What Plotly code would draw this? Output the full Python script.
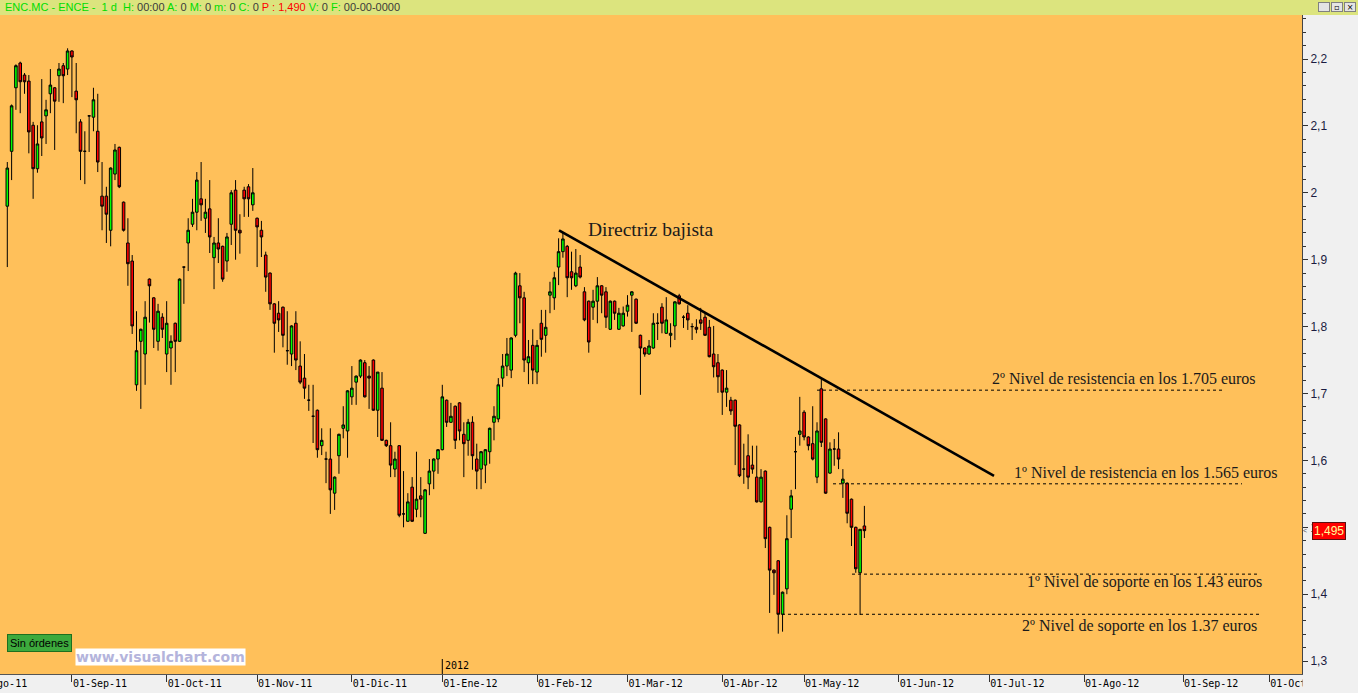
import pandas as pd
import plotly.graph_objects as go

# ---------------- data ----------------
opens = [1.980, 2.062, 2.157, 2.194, 2.176, 2.167, 2.101, 2.036, 2.106, 2.115,
         2.148, 2.157, 2.175, 2.190, 2.185, 2.212, 2.152, 2.106, 2.062, 2.115,
         2.113, 2.092, 1.995, 1.995, 1.944, 2.028, 2.068, 1.986, 1.925, 1.898,
         1.713, 1.778, 1.759, 1.871, 1.843, 1.778, 1.814, 1.759, 1.768, 1.805,
         1.778, 1.889, 1.925, 1.953, 1.971, 1.991, 1.962, 1.976, 1.903, 1.925,
         1.920, 1.898, 1.953, 2.004, 1.944, 2.004, 2.009, 1.982, 1.962, 1.944,
         1.907, 1.880, 1.834, 1.820, 1.829, 1.764, 1.759, 1.805, 1.741, 1.723,
         1.690, 1.666, 1.675, 1.622, 1.602, 1.602, 1.551, 1.607, 1.648, 1.644,
         1.695, 1.717, 1.726, 1.746, 1.726, 1.750, 1.675, 1.708, 1.630, 1.622,
         1.587, 1.622, 1.520, 1.509, 1.560, 1.527, 1.547, 1.491, 1.565, 1.584,
         1.602, 1.616, 1.690, 1.657, 1.681, 1.686, 1.639, 1.630, 1.657, 1.602,
         1.587, 1.593, 1.613, 1.657, 1.662, 1.723, 1.741, 1.735, 1.787, 1.861,
         1.843, 1.746, 1.772, 1.732, 1.805, 1.787, 1.847, 1.843, 1.889, 1.912,
         1.920, 1.882, 1.861, 1.889, 1.852, 1.838, 1.829, 1.838, 1.861, 1.852,
         1.796, 1.838, 1.796, 1.801, 1.823, 1.847, 1.841, 1.787, 1.768, 1.759,
         1.768, 1.805, 1.829, 1.790, 1.787, 1.801, 1.846, 1.814, 1.820, 1.800,
         1.799, 1.810, 1.814, 1.799, 1.759, 1.746, 1.735, 1.702, 1.690, 1.690,
         1.653, 1.587, 1.607, 1.593, 1.575, 1.538, 1.584, 1.500, 1.436, 1.450,
         1.370, 1.408, 1.527, 1.613, 1.639, 1.672, 1.635, 1.625, 1.575, 1.707,
         1.662, 1.581, 1.617, 1.617, 1.566, 1.566, 1.542, 1.500, 1.432, 1.502]
highs = [2.046, 2.132, 2.192, 2.196, 2.179, 2.176, 2.106, 2.101, 2.170, 2.139,
         2.185, 2.158, 2.194, 2.194, 2.216, 2.213, 2.194, 2.110, 2.092, 2.115,
         2.157, 2.148, 2.046, 2.009, 2.038, 2.073, 2.069, 1.987, 1.962, 1.907,
         1.823, 1.797, 1.838, 1.872, 1.844, 1.834, 1.820, 1.838, 1.787, 1.806,
         1.872, 1.889, 1.962, 1.991, 2.031, 2.046, 1.991, 2.019, 1.934, 1.962,
         1.921, 1.940, 2.004, 2.019, 1.968, 2.009, 2.013, 2.037, 1.963, 1.958,
         1.912, 1.881, 1.835, 1.838, 1.830, 1.823, 1.802, 1.823, 1.778, 1.759,
         1.713, 1.713, 1.676, 1.648, 1.613, 1.648, 1.576, 1.640, 1.681, 1.705,
         1.741, 1.727, 1.751, 1.750, 1.741, 1.751, 1.732, 1.732, 1.631, 1.657,
         1.613, 1.623, 1.584, 1.551, 1.575, 1.613, 1.575, 1.557, 1.602, 1.603,
         1.617, 1.713, 1.691, 1.686, 1.682, 1.687, 1.657, 1.662, 1.666, 1.625,
         1.614, 1.617, 1.649, 1.681, 1.723, 1.759, 1.783, 1.784, 1.882, 1.880,
         1.852, 1.780, 1.796, 1.780, 1.825, 1.825, 1.867, 1.882, 1.932, 1.940,
         1.922, 1.912, 1.916, 1.907, 1.859, 1.839, 1.855, 1.874, 1.862, 1.859,
         1.839, 1.839, 1.828, 1.830, 1.847, 1.853, 1.842, 1.788, 1.769, 1.780,
         1.820, 1.820, 1.835, 1.844, 1.805, 1.838, 1.849, 1.817, 1.832, 1.805,
         1.811, 1.828, 1.820, 1.810, 1.801, 1.759, 1.736, 1.735, 1.695, 1.691,
         1.654, 1.625, 1.639, 1.622, 1.622, 1.587, 1.585, 1.501, 1.437, 1.451,
         1.404, 1.518, 1.556, 1.635, 1.695, 1.675, 1.636, 1.681, 1.657, 1.723,
         1.663, 1.627, 1.632, 1.642, 1.587, 1.567, 1.543, 1.501, 1.497, 1.532]
lows = [1.889, 2.019, 2.124, 2.119, 2.148, 2.059, 1.991, 2.030, 2.055, 2.073,
        2.119, 2.064, 2.136, 2.134, 2.176, 2.143, 2.089, 2.019, 2.013, 2.061,
        2.092, 2.031, 1.944, 1.925, 1.920, 2.019, 2.007, 1.942, 1.861, 1.789,
        1.704, 1.677, 1.713, 1.806, 1.768, 1.764, 1.783, 1.732, 1.713, 1.732,
        1.777, 1.834, 1.883, 1.949, 1.944, 1.958, 1.940, 1.910, 1.856, 1.895,
        1.867, 1.882, 1.922, 1.900, 1.909, 1.964, 1.964, 1.973, 1.889, 1.904,
        1.852, 1.825, 1.761, 1.792, 1.769, 1.743, 1.741, 1.735, 1.714, 1.692,
        1.674, 1.626, 1.604, 1.608, 1.566, 1.520, 1.526, 1.580, 1.633, 1.604,
        1.683, 1.683, 1.723, 1.694, 1.677, 1.674, 1.635, 1.629, 1.620, 1.575,
        1.575, 1.515, 1.500, 1.508, 1.508, 1.515, 1.515, 1.490, 1.548, 1.557,
        1.580, 1.615, 1.650, 1.656, 1.617, 1.630, 1.575, 1.607, 1.586, 1.557,
        1.557, 1.566, 1.595, 1.630, 1.657, 1.710, 1.726, 1.723, 1.784, 1.805,
        1.732, 1.714, 1.714, 1.714, 1.755, 1.761, 1.820, 1.825, 1.862, 1.903,
        1.844, 1.855, 1.859, 1.872, 1.808, 1.761, 1.810, 1.805, 1.820, 1.798,
        1.795, 1.810, 1.795, 1.800, 1.815, 1.792, 1.804, 1.698, 1.755, 1.758,
        1.767, 1.780, 1.790, 1.789, 1.769, 1.780, 1.833, 1.798, 1.795, 1.780,
        1.790, 1.795, 1.786, 1.754, 1.724, 1.701, 1.668, 1.680, 1.668, 1.593,
        1.575, 1.565, 1.557, 1.580, 1.537, 1.537, 1.469, 1.372, 1.399, 1.341,
        1.344, 1.400, 1.484, 1.557, 1.622, 1.630, 1.615, 1.600, 1.566, 1.620,
        1.550, 1.580, 1.592, 1.587, 1.544, 1.506, 1.472, 1.432, 1.369, 1.484]
closes = [2.037, 2.130, 2.190, 2.166, 2.166, 2.091, 2.036, 2.073, 2.082, 2.124,
          2.161, 2.137, 2.185, 2.175, 2.212, 2.203, 2.139, 2.062, 2.062, 2.115,
          2.139, 2.046, 1.980, 1.968, 2.037, 2.064, 2.009, 1.944, 1.894, 1.801,
          1.764, 1.796, 1.814, 1.861, 1.796, 1.823, 1.796, 1.805, 1.778, 1.778,
          1.871, 1.889, 1.944, 1.971, 2.019, 1.982, 1.971, 1.934, 1.925, 1.916,
          1.871, 1.934, 2.000, 1.944, 1.940, 1.991, 1.991, 2.000, 1.949, 1.934,
          1.874, 1.834, 1.805, 1.810, 1.787, 1.764, 1.801, 1.750, 1.717, 1.708,
          1.690, 1.666, 1.616, 1.630, 1.602, 1.556, 1.575, 1.639, 1.653, 1.704,
          1.708, 1.726, 1.750, 1.695, 1.723, 1.675, 1.732, 1.630, 1.622, 1.593,
          1.602, 1.518, 1.520, 1.538, 1.509, 1.542, 1.542, 1.556, 1.584, 1.602,
          1.616, 1.695, 1.657, 1.666, 1.630, 1.644, 1.625, 1.657, 1.607, 1.584,
          1.613, 1.616, 1.648, 1.666, 1.713, 1.741, 1.759, 1.783, 1.880, 1.843,
          1.750, 1.755, 1.735, 1.772, 1.781, 1.799, 1.852, 1.873, 1.912, 1.931,
          1.873, 1.873, 1.880, 1.874, 1.810, 1.777, 1.838, 1.861, 1.847, 1.814,
          1.838, 1.820, 1.820, 1.820, 1.832, 1.852, 1.805, 1.768, 1.759, 1.771,
          1.805, 1.805, 1.805, 1.810, 1.790, 1.837, 1.834, 1.814, 1.810, 1.800,
          1.796, 1.805, 1.787, 1.755, 1.740, 1.725, 1.702, 1.708, 1.674, 1.651,
          1.577, 1.587, 1.575, 1.587, 1.538, 1.575, 1.483, 1.436, 1.432, 1.370,
          1.403, 1.483, 1.547, 1.613, 1.644, 1.635, 1.622, 1.602, 1.644, 1.627,
          1.551, 1.617, 1.617, 1.602, 1.572, 1.521, 1.500, 1.438, 1.497, 1.495]

first_session = "2011-08-11"
market_holidays = ["2011-12-26", "2012-04-06", "2012-04-09", "2012-05-01"]
month_starts = ["2011-08-01", "2011-09-01", "2011-10-01", "2011-11-01", "2011-12-01",
                "2012-01-01", "2012-02-01", "2012-03-01", "2012-04-01", "2012-05-01",
                "2012-06-01", "2012-07-01", "2012-08-01", "2012-09-01", "2012-10-01"]
month_labels = ["01-Ago-11", "01-Sep-11", "01-Oct-11", "01-Nov-11", "01-Dic-11",
                "01-Ene-12", "01-Feb-12", "01-Mar-12", "01-Abr-12", "01-May-12",
                "01-Jun-12", "01-Jul-12", "01-Ago-12", "01-Sep-12", "01-Oct-12"]
year_mark = "2012-01-01"

trend_dates = ["2012-02-08", "2012-07-03"]
trend_prices = [1.944, 1.577]
trend_label = "Directriz bajista"

level_prices = [1.705, 1.565, 1.43, 1.37]
level_labels = ["2º Nivel de resistencia en los 1.705 euros",
                "1º Nivel de resistencia en los 1.565 euros",
                "1º Nivel de soporte en los 1.43 euros",
                "2º Nivel de soporte en los 1.37 euros"]
last_price = 1.495

# ---------------- trading-day scale ----------------
tdays = pd.bdate_range("2011-07-01", "2012-11-30")
tdays = tdays[~tdays.isin(pd.to_datetime(market_holidays))]
origin = tdays.get_loc(pd.Timestamp(first_session))


def pos_of(d):
    """position (in trading sessions) of the first session on/after date d"""
    ts = pd.Timestamp(d)
    return int((tdays >= ts).argmax()) - origin


n = len(opens)
xs = list(range(n))
dates = [tdays[origin + i].strftime("%d-%m-%Y") for i in xs]
tick_pos = [pos_of(d) for d in month_starts]

# ---------------- geometry (pixels of the 1358x693 page) ----------------
W, H = 1358, 693
ML, MR, MT, MB = 0, 56, 15, 19
PW, PH = W - ML - MR, H - MT - MB
X_PER_SESSION = 4.307
X0_PX = 7.3
xr = [(0 - X0_PX) / X_PER_SESSION, (PW - X0_PX) / X_PER_SESSION]
PX_PER_UNIT = 669.0
yr = [2.2 - (MT + PH - 59) / PX_PER_UNIT, 2.2 + (59 - MT) / PX_PER_UNIT]


def px_x(px):
    return (px - X0_PX) / X_PER_SESSION


def ppx(px):  # paper x from page px
    return (px - ML) / PW


def ppy(py):  # paper y from page py
    return (MT + PH - py) / PH


fig = go.Figure()

fig.add_trace(go.Candlestick(
    x=xs, open=opens, high=highs, low=lows, close=closes, text=dates,
    increasing=dict(fillcolor="#00FF00", line=dict(color="#000000", width=1)),
    decreasing=dict(fillcolor="#FF0000", line=dict(color="#000000", width=1)),
    whiskerwidth=0, showlegend=False, hoverinfo="x+y+text"))

# trend line
tx = [pos_of(d) + 0.1 for d in trend_dates]
fig.add_trace(go.Scatter(x=tx, y=trend_prices, mode="lines",
                         line=dict(color="#000000", width=2.6),
                         showlegend=False, hoverinfo="skip"))

# support / resistance levels
level_start = [px_x(817), px_x(833), px_x(852), px_x(782)]
level_end = [px_x(1225), px_x(1242), px_x(1257), px_x(1259)]
for p, s, e in zip(level_prices, level_start, level_end):
    fig.add_trace(go.Scatter(x=[s, e], y=[p, p], mode="lines",
                             line=dict(color="#000000", width=1, dash="3px,3px"),
                             showlegend=False, hoverinfo="skip"))

annotations = []
serif = "Liberation Serif"
annotations.append(dict(x=px_x(650), y=2.2 - (229 - 59) / PX_PER_UNIT, xref="x", yref="y",
                        text=trend_label, showarrow=False, xanchor="center", yanchor="middle",
                        font=dict(family=serif, size=19.5, color="#1a1a1a")))
label_cx = [1124, 1145.5, 1144.5, 1139]
label_cy = [378, 472.5, 581.5, 625.5]
for t, cx, cy in zip(level_labels, label_cx, label_cy):
    annotations.append(dict(x=px_x(cx), y=2.2 - (cy - 59) / PX_PER_UNIT, xref="x", yref="y",
                            text=t, showarrow=False, xanchor="center", yanchor="middle",
                            font=dict(family=serif, size=16, color="#1a1a1a")))

# partially visible first month label
annotations.append(dict(x=ppx(-29), y=ppy(683.5), xref="paper", yref="paper", text=month_labels[0],
                        showarrow=False, xanchor="left", yanchor="middle",
                        font=dict(family="DejaVu Sans Mono", size=10, color="#000000")))

# year marker
annotations.append(dict(x=pos_of(year_mark), y=ppy(665), xref="x", yref="paper", text="2012",
                        showarrow=False, xanchor="left", yanchor="middle", xshift=1,
                        font=dict(family="DejaVu Sans Mono", size=10, color="#000000")))

# last price tag
annotations.append(dict(x=ppx(1312), y=last_price, xref="paper", yref="y",
                        text=f"{last_price:.3f}".replace(".", ","), showarrow=False,
                        xanchor="left", yanchor="middle", bgcolor="#FF0000",
                        bordercolor="#5a1010", borderwidth=1, borderpad=1,
                        font=dict(family="Liberation Sans", size=12, color="#FFFF99")))
annotations.append(dict(x=ppx(1302), y=last_price, xref="paper", yref="y", text="&lt;",
                        showarrow=False, xanchor="left", yanchor="middle", borderpad=0,
                        font=dict(family="Liberation Sans", size=7, color="#555555")))

# header bar text
G, D, R = "#00DD00", "#3a3a3a", "#FF0000"
hdr = (f"<span style='color:{G}'>ENC.MC - ENCE -  1 d  H: </span>"
       f"<span style='color:{D}'>00:00</span>"
       f"<span style='color:{G}'> A: </span><span style='color:{D}'>0</span>"
       f"<span style='color:{G}'> M: </span><span style='color:{D}'>0</span>"
       f"<span style='color:{G}'> m: </span><span style='color:{D}'>0</span>"
       f"<span style='color:{G}'> C: </span><span style='color:{D}'>0</span>"
       f"<span style='color:{R}'> P : 1,490</span>"
       f"<span style='color:{G}'> V: </span><span style='color:{D}'>0</span>"
       f"<span style='color:{G}'> F: </span><span style='color:{D}'>00-00-0000</span>")
annotations.append(dict(x=ppx(3), y=ppy(7.5), xref="paper", yref="paper", text=hdr,
                        showarrow=False, xanchor="left", yanchor="middle",
                        font=dict(family="Liberation Sans", size=11)))

# window buttons
for i, g in enumerate(["_", "▫", "×"]):
    annotations.append(dict(x=ppx(1324 + i * 13), y=ppy(7), xref="paper", yref="paper", text=g,
                            showarrow=False, xanchor="center", yanchor="middle",
                            bgcolor="#E4E4E4", bordercolor="#808080", borderwidth=1, borderpad=0,
                            width=10, height=8,
                            font=dict(family="DejaVu Sans", size=8, color="#000000")))

# bottom-left tags
annotations.append(dict(x=ppx(39.5), y=ppy(642.5), xref="paper", yref="paper", text="Sin órdenes",
                        showarrow=False, xanchor="center", yanchor="middle",
                        bgcolor="#3DAA3D", bordercolor="#1F6F1F", borderwidth=1, borderpad=2,
                        font=dict(family="Liberation Sans", size=11, color="#000000")))
annotations.append(dict(x=ppx(160), y=ppy(657), xref="paper", yref="paper", text="<b>www.visualchart.com</b>",
                        showarrow=False, xanchor="center", yanchor="middle",
                        bgcolor="#FFFFFF", borderpad=0,
                        font=dict(family="DejaVu Sans", size=14, color="#B4B4DC")))

shapes = [
    # header bar
    dict(type="rect", xref="paper", yref="paper", x0=ppx(0), x1=ppx(W), y0=ppy(15), y1=ppy(0),
         fillcolor="#DCE47E", line=dict(width=0), layer="above"),
    # hide the part of the last month label that enters the price panel
    dict(type="rect", xref="paper", yref="paper", x0=ppx(1302.5), x1=ppx(W), y0=ppy(H), y1=ppy(675),
         fillcolor="#F0F0F0", line=dict(width=0), layer="above"),
    # year marker tick
    dict(type="line", xref="x", yref="paper", x0=pos_of(year_mark), x1=pos_of(year_mark),
         y0=ppy(674), y1=ppy(659), line=dict(color="#000000", width=1)),
]

fig.update_layout(
    width=W, height=H, margin=dict(l=ML, r=MR, t=MT, b=MB, pad=0),
    paper_bgcolor="#F0F0F0", plot_bgcolor="#FFC05A",
    separators=",.", boxgap=0.15, showlegend=False,
    annotations=annotations, shapes=shapes,
    xaxis=dict(range=xr, rangeslider=dict(visible=False), showgrid=False, zeroline=False,
               tickmode="array", tickvals=tick_pos[1:], ticktext=month_labels[1:],
               ticks="outside", ticklen=7, tickcolor="#333333", ticklabelposition="outside right",
               tickfont=dict(family="DejaVu Sans Mono", size=10, color="#000000"),
               showline=True, linecolor="#555555", linewidth=1, fixedrange=True),
    yaxis=dict(range=yr, side="right", showgrid=False, zeroline=False,
               tick0=1.3, dtick=0.1, ticks="outside", ticklen=5, tickcolor="#333333",
               minor=dict(dtick=0.02, ticklen=3, tickcolor="#333333", ticks="outside", showgrid=False),
               tickfont=dict(family="Liberation Sans", size=12, color="#1B1B40"),
               showline=True, linecolor="#444444", linewidth=1, fixedrange=True),
)

fig.write_html("out.html", config={"displayModeBar": False},
               post_script="document.body.style.margin='0px';document.body.style.overflow='hidden';")
